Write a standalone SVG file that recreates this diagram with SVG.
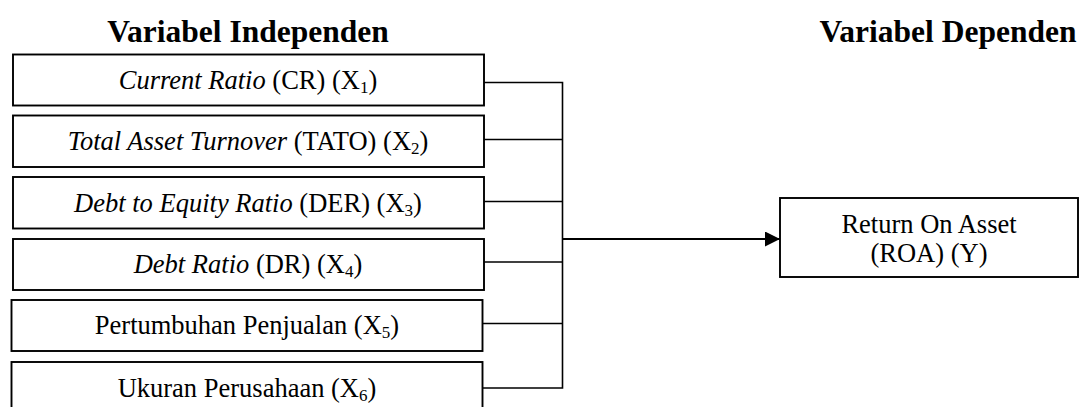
<svg xmlns="http://www.w3.org/2000/svg" width="1082" height="407" viewBox="0 0 1082 407">
<style>
.box{fill:#fff;stroke:#000;stroke-width:1.9}
.t{font-family:"Liberation Serif","Times New Roman",serif;font-size:26.5px;fill:#000;text-anchor:middle}
.h{font-family:"Liberation Serif","Times New Roman",serif;font-size:31.5px;font-weight:bold;fill:#000;text-anchor:middle}
.i{font-style:italic}
.sub{font-size:17px}
.ln{fill:none;stroke:#000;stroke-width:1.6}
.arr{fill:none;stroke:#000;stroke-width:2.2}
</style>
<defs>
<marker id="ah" markerWidth="15" markerHeight="15" refX="15" refY="7.5" orient="auto" markerUnits="userSpaceOnUse">
<path d="M0,0 L15,7.5 L0,15 Z" fill="#000"/>
</marker>
</defs>
<text class="h" x="248" y="42">Variabel Independen</text>
<text class="h" x="948" y="42">Variabel Dependen</text>
<g id="n1"><rect class="box" x="13" y="54.5" width="471" height="51"/>
<text class="t" x="248" y="89"><tspan class="i">Current Ratio</tspan> (CR) (X<tspan class="sub" dy="4">1</tspan><tspan dy="-4">)</tspan></text></g>
<g id="n2"><rect class="box" x="13" y="115.5" width="471" height="51.5"/>
<text class="t" x="248" y="150"><tspan class="i">Total Asset Turnover</tspan> (TATO) (X<tspan class="sub" dy="4">2</tspan><tspan dy="-4">)</tspan></text></g>
<g id="n3"><rect class="box" x="13" y="177" width="471" height="51.5"/>
<text class="t" x="248" y="212"><tspan class="i">Debt to Equity Ratio</tspan> (DER) (X<tspan class="sub" dy="4">3</tspan><tspan dy="-4">)</tspan></text></g>
<g id="n4"><rect class="box" x="13" y="239" width="471" height="51"/>
<text class="t" x="248" y="273"><tspan class="i">Debt Ratio</tspan> (DR) (X<tspan class="sub" dy="4">4</tspan><tspan dy="-4">)</tspan></text></g>
<g id="n5"><rect class="box" x="11.5" y="300" width="471" height="51"/>
<text class="t" x="247" y="334">Pertumbuhan Penjualan (X<tspan class="sub" dy="4">5</tspan><tspan dy="-4">)</tspan></text></g>
<g id="n6"><rect class="box" x="11.5" y="362" width="471" height="60"/>
<text class="t" x="247" y="397">Ukuran Perusahaan (X<tspan class="sub" dy="4">6</tspan><tspan dy="-4">)</tspan></text></g>
<g id="ny"><rect class="box" x="780" y="198" width="298" height="79"/>
<text class="t" x="929" y="233">Return On Asset</text>
<text class="t" x="929" y="262">(ROA) (Y)</text></g>
<g id="connectors">
<path class="ln" d="M484,82.5 H562.5 V388 H482.5"/>
<path class="ln" d="M484,139.5 H562.5"/>
<path class="ln" d="M484,201.5 H562.5"/>
<path class="ln" d="M484,262 H562.5"/>
<path class="ln" d="M482.5,323.5 H562.5"/>
<path class="arr" d="M562.5,239 H780" marker-end="url(#ah)"/>
</g>
</svg>
